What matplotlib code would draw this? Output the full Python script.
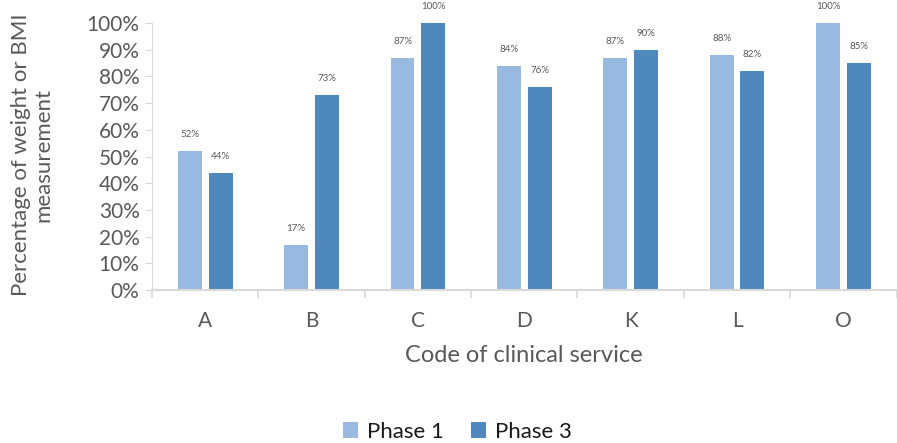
import numpy as np
import matplotlib
matplotlib.use("Agg")
import matplotlib.pyplot as plt

services = ["A", "B", "C", "D", "K", "L", "O"]
phase1 = [52, 17, 87, 84, 87, 88, 100]
phase3 = [44, 73, 100, 76, 90, 82, 85]

plt.rcParams['font.family'] = ['Lato', 'DejaVu Sans']
txt = '#595959'
axis_col = '#d9d9d9'

fig = plt.figure(figsize=(8.97, 4.43), dpi=100)
ax = fig.add_axes([0.1695, 0.345, 0.83, 0.603])

x = np.arange(len(services))
w = 0.225
off = 0.145
b1 = ax.bar(x - off, phase1, w, color='#98b9e0', label='Phase 1')
b3 = ax.bar(x + off, phase3, w, color='#4f88bd', label='Phase 3')

# value labels above each bar
for bars, vals in ((b1, phase1), (b3, phase3)):
    for r, v in zip(bars, vals):
        ax.text(r.get_x() + r.get_width() / 2, v + 4.5, f'{v}%', ha='center',
                va='bottom', fontsize=7, color=txt)

ax.set_xlim(-0.5, len(services) - 0.5)
ax.set_ylim(0, 100)
ax.set_yticks(np.arange(0, 101, 10))
ax.set_yticklabels([f'{t}%' for t in range(0, 101, 10)])
ax.set_xticks(x)
ax.set_xticklabels(services)
ax.set_xticks(np.arange(-0.5, len(services), 1), minor=True)

for s in ('top', 'right'):
    ax.spines[s].set_visible(False)
ax.spines['left'].set_color(axis_col)
ax.spines['bottom'].set_color(axis_col)
ax.spines['bottom'].set_linewidth(1.5)
ax.tick_params(axis='y', colors=axis_col, labelcolor=txt, labelsize=15, length=5, pad=4)
ax.tick_params(axis='x', which='major', length=0, labelcolor=txt, labelsize=15, pad=15)
ax.tick_params(axis='x', which='minor', length=6, color=axis_col, width=1.2)

ax.set_xlabel('Code of clinical service', fontsize=17, color=txt, labelpad=10)
fig.text(0.036, 0.65, 'Percentage of weight or BMI\nmeasurement', rotation=90,
         ha='center', va='center', fontsize=16, color=txt, linespacing=1.1)

leg = fig.legend(handles=[b1, b3], loc='center', bbox_to_anchor=(0.51, 0.025), ncol=2,
                 frameon=False, fontsize=16, handlelength=0.7, handleheight=0.7,
                 handletextpad=0.4, columnspacing=1.2)
for t in leg.get_texts():
    t.set_color('#1a1a1a')

fig.savefig('out.png', dpi=100)
